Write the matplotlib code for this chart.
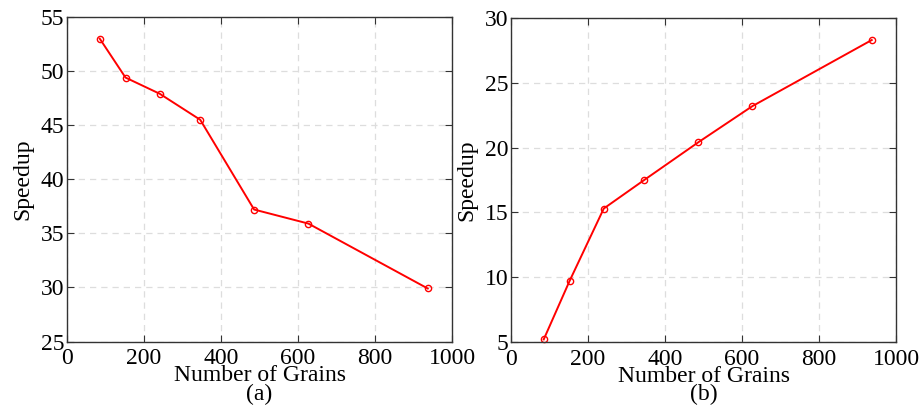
import matplotlib.pyplot as plt
import numpy as np

plt.rcParams['font.family'] = ['Liberation Serif', 'DejaVu Serif']
plt.rcParams['mathtext.fontset'] = 'stix'

grains = [85, 152, 241, 346, 486, 627, 937]
speedup_a = [53.0, 49.4, 47.9, 45.5, 37.2, 35.9, 29.9]
speedup_b = [5.2, 9.7, 15.3, 17.5, 20.4, 23.2, 28.3]

xticks = [0, 200, 400, 600, 800, 1000]
yticks_a = [25, 30, 35, 40, 45, 50, 55]
yticks_b = [5, 10, 15, 20, 25, 30]


def style(ax, yticks):
    ax.set_xlim(0, 1000)
    ax.set_ylim(yticks[0], yticks[-1])
    ax.set_xticks(xticks)
    ax.set_yticks(yticks)
    ax.tick_params(direction='in', top=True, right=True, labelsize=17, length=5,
                   color='#333333')
    ax.tick_params(axis='x', pad=5)
    ax.tick_params(axis='y', pad=2)
    ax.grid(True, linestyle=(0, (5, 4)), color='#dddddd', linewidth=0.9)
    ax.set_axisbelow(True)
    for s in ax.spines.values():
        s.set_color('#333333')
        s.set_linewidth(1.0)
    ax.set_xlabel('Number of Grains', fontsize=17, labelpad=-3)
    ax.set_ylabel('Speedup', fontsize=17, labelpad=5)


fig = plt.figure(figsize=(9.22, 4.12), dpi=100)
ax1 = fig.add_axes([67 / 922, 1 - 341.5 / 412, 385 / 922, 324.5 / 412])
ax2 = fig.add_axes([511 / 922, 1 - 342 / 412, 385 / 922, 324 / 412])

ax1.plot(grains, speedup_a, color='red', linewidth=1.4, marker='o', markersize=4.5,
         markerfacecolor='none', markeredgecolor='red', markeredgewidth=1.0, clip_on=False)
ax2.plot(grains, speedup_b, color='red', linewidth=1.4, marker='o', markersize=4.5,
         markerfacecolor='none', markeredgecolor='red', markeredgewidth=1.0, clip_on=False)

style(ax1, yticks_a)
style(ax2, yticks_b)

fig.text((67 + 385 / 2) / 922, 1 - 384 / 412, '(a)', ha='center', va='top', fontsize=17)
fig.text((511 + 385 / 2) / 922, 1 - 384 / 412, '(b)', ha='center', va='top', fontsize=17)

fig.savefig('out.png', dpi=100)
